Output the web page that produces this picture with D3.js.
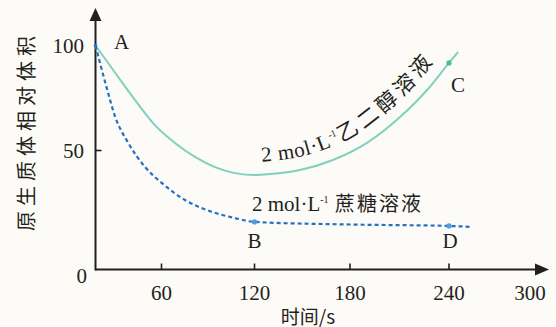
<!DOCTYPE html>
<html><head><meta charset="utf-8">
<script src="https://cdn.jsdelivr.net/npm/d3@7/dist/d3.min.js"></script>
<style>
html,body{margin:0;padding:0;background:#fcfbf7;}
svg{display:block;}
</style></head>
<body><svg id="chart" width="556" height="327"></svg>
<script>
// ---- data ----
const xTicks = [60, 120, 180, 240, 300];
const yTicks = [0, 50, 100];
const xTitle = "时间/s";
const yTitle = "原生质体相对体积";
// 2 mol·L-1 乙二醇溶液 (time s, relative volume)
const glycolT = [0, 18, 36, 54, 68.7, 81.6, 94.5, 107.4, 120.3, 129.7, 148.5, 169.3, 190.3, 210.3, 226.7, 240, 246.7];
const glycolV = [100, 86.9, 74, 62.1, 53.6, 47.3, 43, 40.5, 39.7, 40.1, 41.8, 46, 53.6, 65.9, 78.8, 91.7, 96.9];
// 2 mol·L-1 蔗糖溶液
const sucroseT = [0, 9, 18, 29.8, 45.1, 60.3, 75.2, 92.6, 107.4, 120, 180, 240, 257];
const sucroseV = [100, 82.1, 65.9, 53.6, 43, 36.3, 29.2, 24.2, 21.6, 20, 18.9, 18.3, 17.9];
const pointNames = ["A", "B", "C", "D"];
const pointT = [0, 120, 240, 240];
const pointV = [100, 20, 91.7, 18.3];
const glycolLabel = ["2 mol·L", "-1", "乙二醇溶液"];
const sucroseLabel = ["2 mol·L", "-1", " 蔗糖溶液"];

// ---- scales (hand-drawn figure: uneven spacing) ----
const x = d3.scaleLinear().domain([0, 60, 120, 180, 240, 300]).range([95.5, 161.5, 254.5, 350, 449, 530]);
const y = d3.scaleLinear().domain([0, 50, 100]).range([269.5, 150.5, 45.5]);

const svg = d3.select("#chart");
const ink = "#231f20";
const serif = "'Liberation Serif','Times New Roman',serif";
const cjk = "'Noto Sans CJK SC','Noto Sans',sans-serif";
const teal = "#7fd0c0", blue = "#2a6fc0";

svg.append("rect").attr("width", 556).attr("height", 327).attr("fill", "#fcfbf7");

// axes
const x0 = x(0), yb = y(0);
svg.append("line").attr("x1", x0).attr("x2", 540).attr("y1", yb).attr("y2", yb).attr("stroke", ink).attr("stroke-width", 2);
svg.append("line").attr("x1", x0).attr("x2", x0).attr("y1", yb + 1).attr("y2", 16).attr("stroke", ink).attr("stroke-width", 2);
svg.append("path").attr("d", `M${x0},8 L${x0 - 6},21 L${x0 + 6},21 Z`).attr("fill", ink);
svg.append("path").attr("d", `M549,${yb} L535,${yb - 6} L535,${yb + 6} Z`).attr("fill", ink);

// x ticks
xTicks.forEach(t => {
  if (t !== 300) svg.append("line").attr("x1", x(t)).attr("x2", x(t)).attr("y1", yb).attr("y2", yb - 6).attr("stroke", ink).attr("stroke-width", 1.6);
  svg.append("text").attr("x", x(t)).attr("y", 300).attr("text-anchor", "middle")
    .attr("font-family", serif).attr("font-size", 21).attr("fill", ink).text(t);
});
// y ticks
yTicks.forEach(v => {
  if (v === 50) svg.append("line").attr("x1", x0).attr("x2", x0 + 6).attr("y1", y(v)).attr("y2", y(v)).attr("stroke", ink).attr("stroke-width", 1.6);
  svg.append("text").attr("x", v === 0 ? 87 : 84).attr("y", v === 0 ? y(v) + 6 : y(v)).attr("text-anchor", "end")
    .attr("dominant-baseline", "central")
    .attr("font-family", serif).attr("font-size", 21).attr("fill", ink).text(v);
});

// titles
svg.append("text").attr("x", 308).attr("y", 315).attr("text-anchor", "middle").attr("dominant-baseline", "central")
  .attr("font-family", cjk).attr("font-size", 19).attr("fill", ink).text(xTitle);
svg.append("text").attr("transform", "translate(25,131) rotate(-90)").attr("text-anchor", "middle").attr("dominant-baseline", "central")
  .attr("font-family", cjk).attr("font-size", 20).attr("letter-spacing", 5).attr("fill", ink).text(yTitle);

// curves
const line = d3.line().x(d => x(d[0])).y(d => y(d[1])).curve(d3.curveMonotoneX);
const glycol = glycolT.map((t, i) => [t, glycolV[i]]);
const sucrose = sucroseT.map((t, i) => [t, sucroseV[i]]);
const gPath = svg.append("path").attr("d", line(glycol)).attr("fill", "none").attr("stroke", teal).attr("stroke-width", 2);
svg.append("path").attr("d", line(sucrose)).attr("fill", "none").attr("stroke", blue).attr("stroke-width", 2.2)
  .attr("stroke-dasharray", "4,3");

// points
const pointColors = [blue, "#4a9fe0", "#4dbb9f", "#4a9fe0"];
pointNames.forEach((n, i) => {
  svg.append("circle").attr("cx", x(pointT[i])).attr("cy", y(pointV[i])).attr("r", i === 0 ? 1.8 : 2.6).attr("fill", pointColors[i]);
});
const labelOff = {A: [26, -4], B: [0, 19], C: [9, 22], D: [1, 15]};
pointNames.forEach((n, i) => {
  svg.append("text").attr("x", x(pointT[i]) + labelOff[n][0]).attr("y", y(pointV[i]) + labelOff[n][1])
    .attr("text-anchor", "middle").attr("dominant-baseline", "central")
    .attr("font-family", serif).attr("font-size", 21).attr("fill", ink).text(n);
});

// glycol label along the curve (offset path)
const node = gPath.node();
const L = node.getTotalLength();
const off = 13;
const pts = [];
for (let s = 0; s <= L; s += 1) {
  const p = node.getPointAtLength(s);
  const a = node.getPointAtLength(Math.max(0, s - 3)), b = node.getPointAtLength(Math.min(L, s + 3));
  const dx = b.x - a.x, dy = b.y - a.y, len = Math.hypot(dx, dy) || 1;
  pts.push([p.x + off * dy / len, p.y - off * dx / len]);
}
svg.append("defs").append("path").attr("id", "glyPath").attr("d", d3.line()(pts));
let startIdx = pts.findIndex(p => p[0] >= 261);
let acc = 0;
for (let i = 1; i <= startIdx; i++) acc += Math.hypot(pts[i][0] - pts[i - 1][0], pts[i][1] - pts[i - 1][1]);
const tp = svg.append("text").attr("fill", ink).append("textPath").attr("href", "#glyPath").attr("startOffset", acc);
tp.append("tspan").attr("font-family", serif).attr("font-size", 21).attr("letter-spacing", 0.6).text(glycolLabel[0]);
tp.append("tspan").attr("font-family", serif).attr("font-size", 10).attr("dy", -8).attr("dx", 0.5).text(glycolLabel[1]);
tp.append("tspan").attr("font-family", cjk).attr("font-size", 21).attr("dy", 8).attr("dx", 1.5).attr("letter-spacing", 4.3).text(glycolLabel[2]);

// sucrose label
const st = svg.append("text").attr("x", 252).attr("y", 211).attr("fill", ink);
st.append("tspan").attr("font-family", serif).attr("font-size", 21).text(sucroseLabel[0]);
st.append("tspan").attr("font-family", serif).attr("font-size", 10).attr("dy", -8).text(sucroseLabel[1]);
st.append("tspan").attr("font-family", cjk).attr("font-size", 20).attr("dy", 8).attr("letter-spacing", 2).text(sucroseLabel[2]);
</script></body></html>
